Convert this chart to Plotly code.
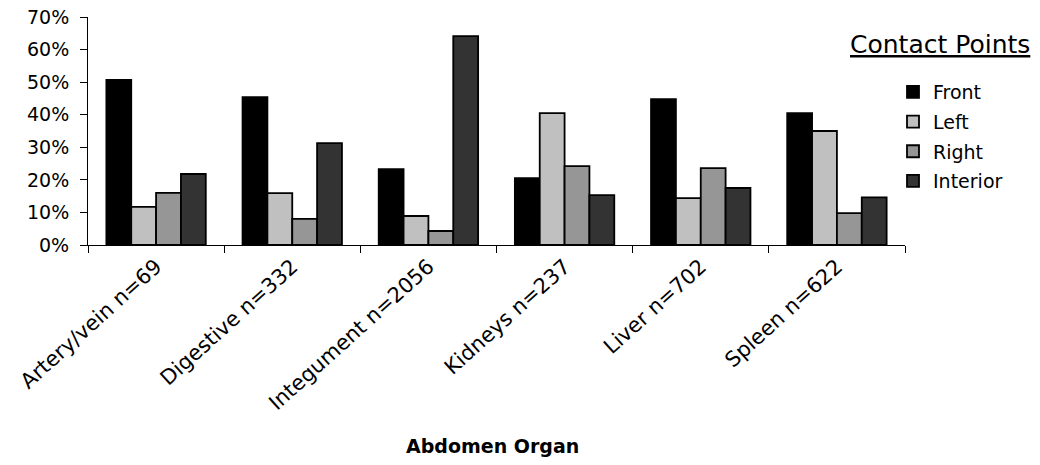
import plotly.graph_objects as go

# Abdomen organ categories with sample sizes
organs = ["Artery/vein n=69", "Digestive n=332", "Integument n=2056",
          "Kidneys n=237", "Liver n=702", "Spleen n=622"]

# Share of contacts per contact point (percent)
front = [50.7, 45.4, 23.3, 20.5, 44.8, 40.5]
left = [11.7, 15.9, 8.9, 40.5, 14.4, 35.0]
right = [16.0, 8.0, 4.3, 24.2, 23.6, 9.8]
interior = [21.8, 31.3, 64.1, 15.3, 17.5, 14.6]

series = [
    ("Front", front, "#000000"),
    ("Left", left, "#c0c0c0"),
    ("Right", right, "#969696"),
    ("Interior", interior, "#333333"),
]

W, H = 1040, 465
L, R, T, B = 88, 135, 17, 220
pw, ph = W - L - R, H - T - B

fig = go.Figure()
for name, vals, color in series:
    fig.add_trace(go.Bar(
        name=name,
        x=organs,
        y=[v / 100 for v in vals],
        marker=dict(color=color, line=dict(color="#000000", width=1.8)),
        legendgroup=name,
    ))

font_main = "DejaVu Sans, Verdana, sans-serif"

fig.update_layout(
    width=W, height=H, autosize=False,
    margin=dict(l=L, r=R, t=T, b=B, pad=0),
    paper_bgcolor="white", plot_bgcolor="white",
    barmode="group", bargap=0.27, bargroupgap=0,
    font=dict(family=font_main, size=18, color="#000000"),
    showlegend=True,
    legend=dict(
        x=(893 - L) / pw, y=(H - B - 73) / ph,
        xanchor="left", yanchor="top",
        font=dict(family=font_main, size=19, color="#000000"),
        tracegroupgap=2, bgcolor="rgba(0,0,0,0)", borderwidth=0,
    ),
    xaxis=dict(
        type="category",
        showline=True, linecolor="#000000", linewidth=1,
        ticks="outside", tickson="boundaries", ticklen=7,
        tickcolor="#000000", tickwidth=1,
        tickangle=-42,
        tickfont=dict(family=font_main, size=21),
        showgrid=False, zeroline=False,
        automargin=False,
    ),
    yaxis=dict(
        range=[0, 0.7], dtick=0.1, tickformat=".0%",
        showline=True, linecolor="#000000", linewidth=1,
        ticks="outside", ticklen=7, tickcolor="#000000", tickwidth=1,
        ticklabelstandoff=7,
        tickfont=dict(family=font_main, size=19),
        showgrid=False, zeroline=False,
        automargin=False,
    ),
    annotations=[
        dict(
            text="<u>Contact Points</u>",
            xref="paper", yref="paper",
            x=(848 - L) / pw, y=(H - B - 44) / ph,
            xanchor="left", yanchor="middle",
            showarrow=False,
            font=dict(family=font_main, size=25, color="#000000"),
        ),
        dict(
            text="<b>Abdomen Organ</b>",
            xref="paper", yref="paper",
            x=(492 - L) / pw, y=(H - B - 446) / ph,
            xanchor="center", yanchor="middle",
            showarrow=False,
            font=dict(family=font_main, size=19, color="#000000"),
        ),
    ],
)

fig.write_html("out.html")
